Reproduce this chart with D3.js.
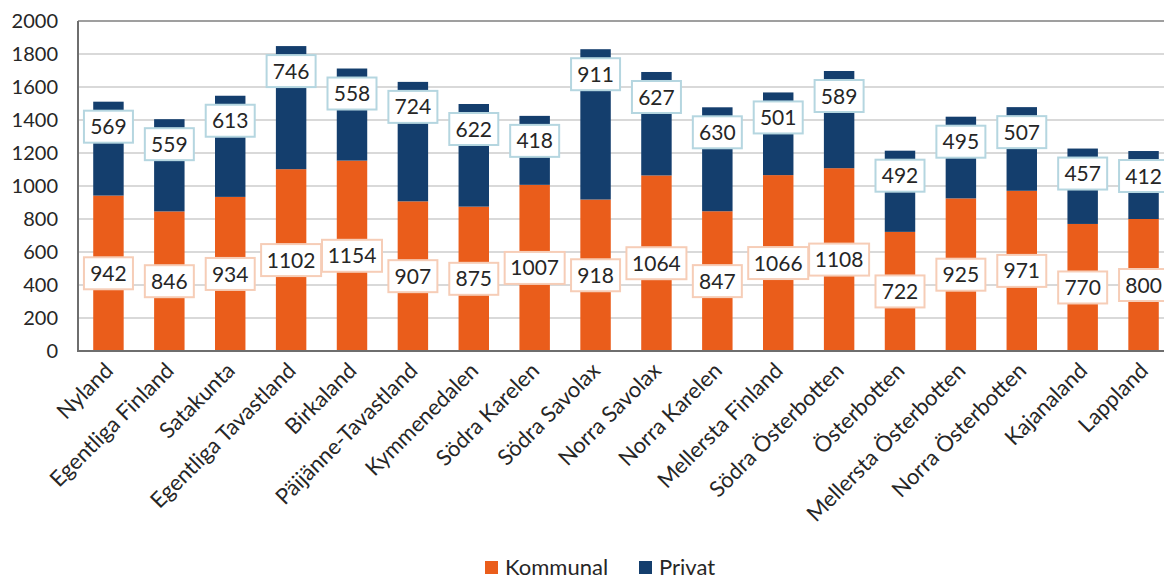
<!DOCTYPE html>
<html>
<head>
<meta charset="utf-8">
<script src="https://cdn.jsdelivr.net/npm/d3@7"></script>
<style>
  html, body { margin: 0; padding: 0; background: #fff; }
  svg { display: block; font-family: Lato, "Open Sans", sans-serif; }
</style>
</head>
<body>
<svg id="chart" width="1164" height="581"></svg>
<script>
const categories = ["Nyland","Egentliga Finland","Satakunta","Egentliga Tavastland","Birkaland","Päijänne-Tavastland","Kymmenedalen","Södra Karelen","Södra Savolax","Norra Savolax","Norra Karelen","Mellersta Finland","Södra Österbotten","Österbotten","Mellersta Österbotten","Norra Österbotten","Kajanaland","Lappland"];
const kommunal = [942,846,934,1102,1154,907,875,1007,918,1064,847,1066,1108,722,925,971,770,800];
const privat = [569,559,613,746,558,724,622,418,911,627,630,501,589,492,495,507,457,412];
const yTicks = [0,200,400,600,800,1000,1200,1400,1600,1800,2000];
const seriesNames = ["Kommunal","Privat"];
const colors = {Kommunal: "#EA5D1B", Privat: "#143E6D"};
const labelStroke = {Kommunal: "#F6CDB7", Privat: "#B5D6E0"};

const svg = d3.select("#chart");
const x = d3.scaleBand().domain(categories).range([78, 1174]).paddingInner(0.5).paddingOuter(0.25);
const y = d3.scaleLinear().domain([0, 2000]).range([351, 21]);

// gridlines
svg.append("g").selectAll("line").data(yTicks.filter(d => d > 0 && d < 2000)).join("line")
  .attr("x1", 78).attr("x2", 1164)
  .attr("y1", d => y(d)).attr("y2", d => y(d))
  .attr("stroke", "#D9D9D9").attr("stroke-width", 2);

// top border
svg.append("line").attr("x1", 78).attr("x2", 1164).attr("y1", y(2000)).attr("y2", y(2000))
  .attr("stroke", "#7F7F7F").attr("stroke-width", 1.5);

// y axis
const yAxis = d3.axisLeft(y).tickValues(yTicks).tickFormat(d3.format("d")).tickSize(0).tickPadding(20);
const gy = svg.append("g").attr("transform", "translate(78,0)").call(yAxis);
gy.select(".domain").remove();
gy.selectAll("text").attr("font-size", 20).attr("fill", "#262626").attr("font-family", "Lato, sans-serif");

const data = categories.map((c, i) => ({cat: c, k: kommunal[i], p: privat[i]}));

// bars
const bw = x.bandwidth();
svg.append("g").selectAll("rect.k").data(data).join("rect")
  .attr("x", d => x(d.cat)).attr("width", bw)
  .attr("y", d => y(d.k)).attr("height", d => y(0) - y(d.k))
  .attr("fill", colors.Kommunal);
svg.append("g").selectAll("rect.p").data(data).join("rect")
  .attr("x", d => x(d.cat)).attr("width", bw)
  .attr("y", d => y(d.k + d.p)).attr("height", d => y(d.k) - y(d.k + d.p))
  .attr("fill", colors.Privat);

// axes lines
svg.append("line").attr("x1", 78).attr("x2", 78).attr("y1", y(2000)).attr("y2", y(0))
  .attr("stroke", "#6E6E6E").attr("stroke-width", 2);
svg.append("line").attr("x1", 77).attr("x2", 1164).attr("y1", y(0)).attr("y2", y(0))
  .attr("stroke", "#6E6E6E").attr("stroke-width", 2);

// x labels
svg.append("g").selectAll("text").data(categories).join("text")
  .attr("transform", d => `translate(${x(d) + bw / 2 + 6},${y(0) + 21}) rotate(-45)`)
  .attr("text-anchor", "end")
  .attr("font-size", 22)
  .attr("fill", "#262626")
  .text(d => d);

// data labels
function addLabel(g, cx, cy, text, stroke) {
  const w = text.length > 3 ? 60 : 49;
  const h = 32;
  g.append("rect").attr("x", cx - w / 2).attr("y", cy - h / 2).attr("width", w).attr("height", h)
    .attr("fill", "#fff").attr("stroke", stroke).attr("stroke-width", 2);
  g.append("text").attr("x", cx).attr("y", cy).attr("dy", "0.36em").attr("text-anchor", "middle")
    .attr("font-size", 21).attr("fill", "#262626").text(text);
}
const lg = svg.append("g");
data.forEach(d => {
  const cx = x(d.cat) + bw / 2;
  addLabel(lg, cx, y(d.k / 2), String(d.k), labelStroke.Kommunal);
  addLabel(lg, cx, y(d.k + d.p) + 25, String(d.p), labelStroke.Privat);
});

// legend
const legend = svg.append("g");
const legendX = [485, 639];
seriesNames.forEach((s, i) => {
  legend.append("rect").attr("x", legendX[i]).attr("y", 561).attr("width", 13).attr("height", 13).attr("fill", colors[s]);
  legend.append("text").attr("x", legendX[i] + 20).attr("y", 567).attr("dy", "0.36em")
    .attr("font-size", 22).attr("fill", "#262626").text(s);
});
</script>
</body>
</html>
